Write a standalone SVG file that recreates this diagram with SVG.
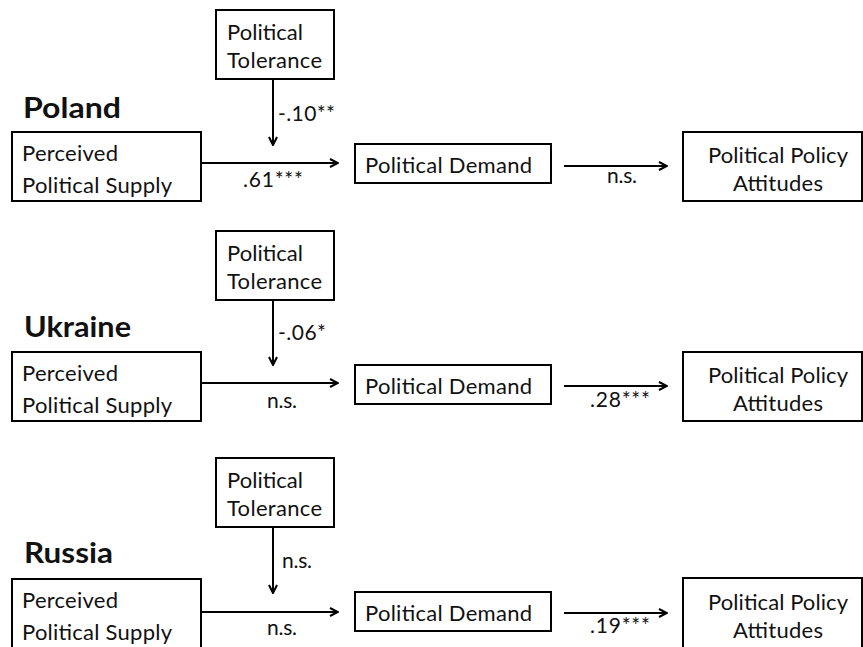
<svg xmlns="http://www.w3.org/2000/svg" width="863" height="647" viewBox="0 0 863 647">
<defs>
<marker id="ah" viewBox="0 0 10 10" refX="9" refY="5" markerWidth="10" markerHeight="10" markerUnits="userSpaceOnUse" orient="auto">
<path d="M1,1 L9,5 L1,9" fill="none" stroke="#000" stroke-width="2"/>
</marker>
<style>
.box{fill:#fff;stroke:#000;stroke-width:2}
.t{font-family:Lato,"Liberation Sans",sans-serif;font-size:22px;fill:#111}
.l{font-family:Lato,"Liberation Sans",sans-serif;font-size:21px;fill:#111}
.h{font-family:Lato,"Liberation Sans",sans-serif;font-size:28px;font-weight:bold;fill:#111}
.c{fill:none;stroke:#000;stroke-width:2;marker-end:url(#ah)}
</style>
</defs>
<rect width="863" height="647" fill="#fff"/>

<!-- Poland -->
<g id="poland-title"><text class="h" x="23" y="118" textLength="98" lengthAdjust="spacingAndGlyphs">Poland</text></g>
<g id="poland-tolerance"><rect class="box" x="216" y="10" width="118" height="69"/><text class="t" x="227" y="40" textLength="76">Political</text><text class="t" x="227" y="68" textLength="95">Tolerance</text></g>
<g id="poland-supply"><rect class="box" x="12" y="132" width="189" height="69"/><text class="t" x="22" y="161" textLength="96">Perceived</text><text class="t" x="22" y="193" textLength="150">Political Supply</text></g>
<g id="poland-demand"><rect class="box" x="355" y="144" width="196" height="39"/><text class="t" x="365" y="173" textLength="167">Political Demand</text></g>
<g id="poland-policy"><rect class="box" x="683" y="132" width="179" height="69"/><text class="t" x="708" y="163" textLength="140">Political Policy</text><text class="t" x="733" y="191" textLength="90">Attitudes</text></g>

<!-- Ukraine -->
<g id="ukraine-title"><text class="h" x="24" y="337" textLength="107" lengthAdjust="spacingAndGlyphs">Ukraine</text></g>
<g id="ukraine-tolerance"><rect class="box" x="216" y="231" width="118" height="69"/><text class="t" x="227" y="261" textLength="76">Political</text><text class="t" x="227" y="289" textLength="95">Tolerance</text></g>
<g id="ukraine-supply"><rect class="box" x="12" y="352" width="189" height="69"/><text class="t" x="22" y="381" textLength="96">Perceived</text><text class="t" x="22" y="413" textLength="150">Political Supply</text></g>
<g id="ukraine-demand"><rect class="box" x="355" y="365" width="196" height="39"/><text class="t" x="365" y="394" textLength="167">Political Demand</text></g>
<g id="ukraine-policy"><rect class="box" x="683" y="352" width="179" height="69"/><text class="t" x="708" y="383" textLength="140">Political Policy</text><text class="t" x="733" y="411" textLength="90">Attitudes</text></g>

<!-- Russia -->
<g id="russia-title"><text class="h" x="24" y="563" textLength="89" lengthAdjust="spacingAndGlyphs">Russia</text></g>
<g id="russia-tolerance"><rect class="box" x="216" y="458" width="118" height="69"/><text class="t" x="227" y="488" textLength="76">Political</text><text class="t" x="227" y="516" textLength="95">Tolerance</text></g>
<g id="russia-supply"><rect class="box" x="12" y="579" width="189" height="80"/><text class="t" x="22" y="608" textLength="96">Perceived</text><text class="t" x="22" y="640" textLength="150">Political Supply</text></g>
<g id="russia-demand"><rect class="box" x="355" y="592" width="196" height="39"/><text class="t" x="365" y="621" textLength="167">Political Demand</text></g>
<g id="russia-policy"><rect class="box" x="683" y="578" width="179" height="80"/><text class="t" x="708" y="610" textLength="140">Political Policy</text><text class="t" x="733" y="638" textLength="90">Attitudes</text></g>

<g id="connectors">
<line class="c" x1="273" y1="79" x2="273" y2="145"/>
<line class="c" x1="201" y1="163" x2="338" y2="163"/>
<line class="c" x1="564" y1="166" x2="667" y2="166"/>
<line class="c" x1="273" y1="300" x2="273" y2="365"/>
<line class="c" x1="201" y1="383" x2="338" y2="383"/>
<line class="c" x1="564" y1="386" x2="667" y2="386"/>
<line class="c" x1="273" y1="527" x2="273" y2="593"/>
<line class="c" x1="201" y1="612" x2="338" y2="612"/>
<line class="c" x1="564" y1="613" x2="667" y2="613"/>
<text class="l" x="278" y="121" textLength="57">-.10**</text>
<text class="l" x="243" y="187" textLength="60">.61***</text>
<text class="l" x="607" y="183" textLength="30">n.s.</text>
<text class="l" x="278" y="340" textLength="48">-.06*</text>
<text class="l" x="267" y="408" textLength="30">n.s.</text>
<text class="l" x="590" y="407" textLength="60">.28***</text>
<text class="l" x="282" y="568" textLength="30">n.s.</text>
<text class="l" x="267" y="635" textLength="30">n.s.</text>
<text class="l" x="590" y="633" textLength="60">.19***</text>
</g>
</svg>
